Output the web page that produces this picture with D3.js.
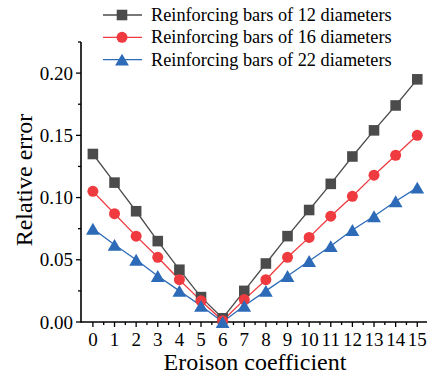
<!DOCTYPE html>
<html><head><meta charset="utf-8">
<script src="https://cdn.jsdelivr.net/npm/d3@7/dist/d3.min.js"></script>
<style>body{margin:0;background:#fff}svg text{font-family:"Liberation Serif","Times New Roman",serif;fill:#000}</style>
</head><body><svg id="c" width="427" height="377"></svg>
<script>
const categories = [0,1,2,3,4,5,6,7,8,9,10,11,12,13,14,15];
const seriesNames = ["Reinforcing bars of 12 diameters","Reinforcing bars of 16 diameters","Reinforcing bars of 22 diameters"];
const d12 = [0.135,0.112,0.089,0.065,0.042,0.020,0.003,0.025,0.047,0.069,0.090,0.111,0.133,0.154,0.174,0.195];
const d16 = [0.105,0.087,0.069,0.052,0.034,0.017,0.001,0.018,0.034,0.052,0.068,0.085,0.101,0.118,0.134,0.150];
const d22 = [0.075,0.062,0.050,0.037,0.025,0.013,0.000,0.013,0.025,0.037,0.049,0.061,0.074,0.085,0.097,0.108];
const yTicks = [0.00,0.05,0.10,0.15,0.20];
const colors = ["#4b4b4b","#ef3b3f","#2d6bb8"];
const symbols = [d3.symbolSquare, d3.symbolCircle, d3.symbolTriangle];
const symSizes = [112, 95, 82];
const symOffsets = [0, 0, 2];

const svg = d3.select("#c");
const x = d3.scaleLinear().domain([-0.55,15.45]).range([81,427]);
const y = d3.scaleLinear().domain([0,0.225]).range([322,42]);

// axes
const gx = svg.append("g").attr("transform","translate(0,322)");
gx.append("line").attr("x1",81).attr("x2",427).attr("stroke","#000").attr("stroke-width",1.6);
categories.forEach(c=>{
  gx.append("line").attr("x1",x(c)).attr("x2",x(c)).attr("y1",0).attr("y2",5).attr("stroke","#000").attr("stroke-width",1.3);
  gx.append("text").attr("x",x(c)).attr("y",24).attr("text-anchor","middle").attr("font-size",19).text(c);
  if (c<15) gx.append("line").attr("x1",x(c+0.5)).attr("x2",x(c+0.5)).attr("y1",0).attr("y2",3).attr("stroke","#000").attr("stroke-width",1.3);
});
const gy = svg.append("g");
gy.append("line").attr("x1",81).attr("x2",81).attr("y1",42).attr("y2",322.8).attr("stroke","#000").attr("stroke-width",1.6);
yTicks.forEach(t=>{
  gy.append("line").attr("x1",76).attr("x2",81).attr("y1",y(t)).attr("y2",y(t)).attr("stroke","#000").attr("stroke-width",1.3);
  gy.append("text").attr("x",73).attr("y",y(t)+6.5).attr("text-anchor","end").attr("font-size",19).text(t.toFixed(2));
  gy.append("line").attr("x1",78).attr("x2",81).attr("y1",y(t+0.025)).attr("y2",y(t+0.025)).attr("stroke","#000").attr("stroke-width",1.3);
});

svg.append("text").attr("transform","translate(32,180) rotate(-90)").attr("text-anchor","middle").attr("font-size",24).text("Relative error");
svg.append("text").attr("x",255).attr("y",370).attr("text-anchor","middle").attr("font-size",24).text("Eroison coefficient");

// series
const data = [d12,d16,d22];
const line = d3.line().x((d,i)=>x(categories[i])).y(d=>y(d));
data.forEach((s,k)=>{
  svg.append("path").attr("d",line(s)).attr("fill","none").attr("stroke",colors[k]).attr("stroke-width",1.3);
});
data.forEach((s,k)=>{
  svg.selectAll(null).data(s).enter().append("path")
    .attr("d",d3.symbol().type(symbols[k]).size(symSizes[k]))
    .attr("transform",(d,i)=>`translate(${x(categories[i])},${y(d)+symOffsets[k]})`)
    .attr("fill",colors[k]);
});

// legend
seriesNames.forEach((n,k)=>{
  const ly = 15 + k*22.3;
  svg.append("line").attr("x1",103).attr("x2",142).attr("y1",ly).attr("y2",ly).attr("stroke",colors[k]).attr("stroke-width",1.3);
  svg.append("path").attr("d",d3.symbol().type(symbols[k]).size(symSizes[k])()).attr("transform",`translate(122,${ly+symOffsets[k]})`).attr("fill",colors[k]);
  svg.append("text").attr("x",151).attr("y",ly+6).attr("font-size",18.3).text(n);
});
</script></body></html>
